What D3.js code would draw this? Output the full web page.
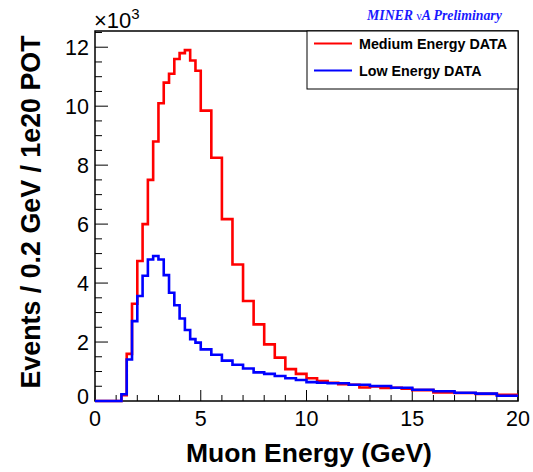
<!DOCTYPE html>
<html>
<head>
<meta charset="utf-8">
<script src="https://cdn.jsdelivr.net/npm/d3@7/dist/d3.min.js"></script>
<style>
  html, body { margin: 0; padding: 0; background: #fff; }
  svg { display: block; font-family: "Liberation Sans", Arial, sans-serif; }
</style>
</head>
<body>
<svg id="chart" width="533" height="472"></svg>
<script>
// ---- data ----
const binEdges = [0, 1.25, 1.5, 1.75, 2.0, 2.25, 2.5, 2.75, 3.0, 3.25, 3.5, 3.75, 4.0, 4.25, 4.5, 4.75, 5.0,
  5.5, 6.0, 6.5, 7.0, 7.5, 8.0, 8.5, 9.0, 9.5, 10.0, 10.5, 11.0, 11.5, 12.0, 12.5, 13.0, 13.5, 14.0,
  14.5, 15.0, 15.5, 16.0, 16.5, 17.0, 17.5, 18.0, 18.5, 19.0, 19.5, 20.0];
// events / 0.2 GeV / 1e20 POT, in units of 10^3
const mediumEnergy = [0, 0.2, 1.6, 3.3, 4.75, 6.0, 7.5, 8.8, 10.1, 10.8, 11.1, 11.6, 11.8, 11.9, 11.55, 11.2,
  9.85, 8.25, 6.17, 4.63, 3.39, 2.6, 1.92, 1.47, 1.08, 0.92, 0.77, 0.68, 0.62, 0.57, 0.55, 0.46,
  0.49, 0.44, 0.45, 0.42, 0.37, 0.37, 0.29, 0.29, 0.27, 0.27, 0.24, 0.24, 0.21, 0.21];
const lowEnergy = [0, 0.23, 1.41, 2.71, 3.56, 4.25, 4.8, 4.92, 4.8, 4.27, 3.67, 3.25, 2.8, 2.41, 2.1, 1.98,
  1.75, 1.57, 1.37, 1.23, 1.1, 0.97, 0.92, 0.85, 0.77, 0.71, 0.64, 0.62, 0.6, 0.6, 0.55, 0.55,
  0.51, 0.51, 0.45, 0.45, 0.38, 0.38, 0.33, 0.33, 0.28, 0.28, 0.25, 0.25, 0.18, 0.18];
const xTicks = [0, 5, 10, 15, 20];
const yTicks = [0, 2, 4, 6, 8, 10, 12];
const seriesNames = ["Medium Energy DATA", "Low Energy DATA"];
const seriesColors = ["#ff0000", "#0000ff"];

// ---- layout ----
const L = 95, R = 518, T = 31, B = 401;
const svg = d3.select("#chart");
const x = d3.scaleLinear().domain([0, 20]).range([L, R]);
const y = d3.scaleLinear().domain([0, 12.55]).range([B, T]);

// frame
svg.append("rect").attr("x", L).attr("y", T).attr("width", R - L).attr("height", B - T)
  .attr("fill", "none").attr("stroke", "#000").attr("stroke-width", 1.5);

// x ticks (inside)
const xMinor = d3.range(0, 21, 1);
svg.append("g").selectAll("line").data(xMinor).join("line")
  .attr("x1", d => x(d)).attr("x2", d => x(d))
  .attr("y1", B).attr("y2", d => (d % 5 === 0 ? B - 11 : B - 6))
  .attr("stroke", "#000").attr("stroke-width", 1);
svg.append("g").selectAll("text").data(xTicks).join("text")
  .attr("x", d => x(d)).attr("y", 426)
  .attr("text-anchor", "middle").attr("font-size", 21.5).text(d => d);

// y ticks (inside)
const yMinor = d3.range(0, 12.51, 0.5);
svg.append("g").selectAll("line").data(yMinor).join("line")
  .attr("x1", L).attr("x2", d => (Math.abs(d % 2) < 1e-6 ? L + 13 : L + 7))
  .attr("y1", d => y(d)).attr("y2", d => y(d))
  .attr("stroke", "#000").attr("stroke-width", 1);
svg.append("g").selectAll("text").data(yTicks).join("text")
  .attr("x", 89).attr("y", d => y(d) + (d === 0 ? 3 : 7.5))
  .attr("text-anchor", "end").attr("font-size", 21.5).text(d => d);

// x10^3
const mult = svg.append("text").attr("x", 94).attr("y", 28).attr("font-size", 22);
mult.append("tspan").text("\u00d710");
mult.append("tspan").attr("dy", -9).attr("font-size", 15).text("3");

// axis titles
svg.append("text").attr("x", 309).attr("y", 462).attr("text-anchor", "middle")
  .attr("font-size", 26.5).attr("font-weight", "bold").text("Muon Energy (GeV)");
svg.append("text").attr("transform", "translate(40,212) rotate(-90)").attr("text-anchor", "middle")
  .attr("font-size", 26.8).attr("font-weight", "bold").text("Events / 0.2 GeV / 1e20 POT");

// histograms
const line = d3.line().x(d => x(d[0])).y(d => y(d[1]));
function stepPoints(vals) {
  const pts = [];
  vals.forEach((v, i) => { pts.push([binEdges[i], v]); pts.push([binEdges[i + 1], v]); });
  return pts;
}
[mediumEnergy, lowEnergy].forEach((vals, k) => {
  svg.append("path").attr("d", line(stepPoints(vals)))
    .attr("fill", "none").attr("stroke", seriesColors[k]).attr("stroke-width", 2.6)
    .attr("stroke-linejoin", "miter");
});

// legend
const lg = svg.append("g");
lg.append("rect").attr("x", 307).attr("y", 31).attr("width", R - 307).attr("height", 58)
  .attr("fill", "#fff").attr("stroke", "#000").attr("stroke-width", 1);
seriesNames.forEach((name, i) => {
  const yy = 43.5 + i * 27;
  lg.append("line").attr("x1", 314).attr("x2", 352).attr("y1", yy).attr("y2", yy)
    .attr("stroke", seriesColors[i]).attr("stroke-width", 2);
  lg.append("text").attr("x", 359).attr("y", yy + 5).attr("font-size", 14.3)
    .attr("font-weight", "bold").text(name);
});

// MINERvA Preliminary
const mt = svg.append("text").attr("x", 367).attr("y", 20)
  .style("font-family", "'Liberation Serif', 'Times New Roman', serif")
  .attr("font-style", "italic").attr("font-weight", "bold").attr("font-size", 13.8)
  .attr("fill", "#1a1aff");
mt.append("tspan").text("MINER ");
mt.append("tspan").attr("font-weight", "normal").attr("font-style", "normal").attr("font-size", 11.5).text("\u03bd");
mt.append("tspan").text("A Preliminary");
</script>
</body>
</html>
